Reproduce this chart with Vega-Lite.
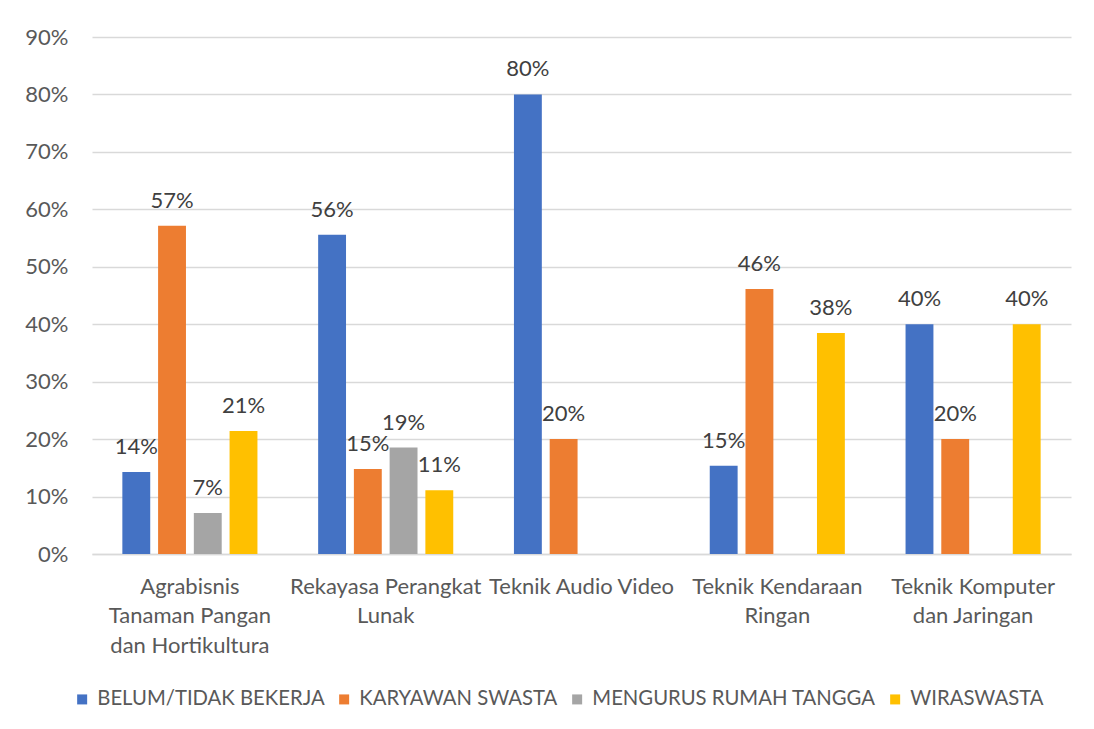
{
  "$schema": "https://vega.github.io/schema/vega-lite/v6.json",
  "autosize": {"type": "none"},
  "width": 979,
  "height": 517,
  "padding": {"left": 92, "top": 37, "right": 23, "bottom": 175},
  "background": "white",
  "config": {"view": {"stroke": null}, "font": "Lato"},
  "data": {
    "values": [
      {"jurusan": "Agrabisnis Tanaman Pangan dan Hortikultura", "status": "BELUM/TIDAK BEKERJA", "persen": 0.1429},
      {"jurusan": "Agrabisnis Tanaman Pangan dan Hortikultura", "status": "KARYAWAN SWASTA", "persen": 0.5714},
      {"jurusan": "Agrabisnis Tanaman Pangan dan Hortikultura", "status": "MENGURUS RUMAH TANGGA", "persen": 0.0714},
      {"jurusan": "Agrabisnis Tanaman Pangan dan Hortikultura", "status": "WIRASWASTA", "persen": 0.2143},
      {"jurusan": "Rekayasa Perangkat Lunak", "status": "BELUM/TIDAK BEKERJA", "persen": 0.5556},
      {"jurusan": "Rekayasa Perangkat Lunak", "status": "KARYAWAN SWASTA", "persen": 0.1481},
      {"jurusan": "Rekayasa Perangkat Lunak", "status": "MENGURUS RUMAH TANGGA", "persen": 0.1852},
      {"jurusan": "Rekayasa Perangkat Lunak", "status": "WIRASWASTA", "persen": 0.1111},
      {"jurusan": "Teknik Audio Video", "status": "BELUM/TIDAK BEKERJA", "persen": 0.8},
      {"jurusan": "Teknik Audio Video", "status": "KARYAWAN SWASTA", "persen": 0.2},
      {"jurusan": "Teknik Kendaraan Ringan", "status": "BELUM/TIDAK BEKERJA", "persen": 0.1538},
      {"jurusan": "Teknik Kendaraan Ringan", "status": "KARYAWAN SWASTA", "persen": 0.4615},
      {"jurusan": "Teknik Kendaraan Ringan", "status": "WIRASWASTA", "persen": 0.3846},
      {"jurusan": "Teknik Komputer dan Jaringan", "status": "BELUM/TIDAK BEKERJA", "persen": 0.4},
      {"jurusan": "Teknik Komputer dan Jaringan", "status": "KARYAWAN SWASTA", "persen": 0.2},
      {"jurusan": "Teknik Komputer dan Jaringan", "status": "WIRASWASTA", "persen": 0.4}
    ]
  },
  "encoding": {
    "x": {
      "field": "jurusan",
      "type": "nominal",
      "sort": ["Agrabisnis Tanaman Pangan dan Hortikultura", "Rekayasa Perangkat Lunak", "Teknik Audio Video", "Teknik Kendaraan Ringan", "Teknik Komputer dan Jaringan"],
      "scale": {"paddingInner": 0.31, "paddingOuter": 0.155},
      "axis": {
        "title": null,
        "labelAngle": 0,
        "domain": true,
        "domainColor": "#D9D9D9",
        "domainWidth": 1.3,
        "ticks": false,
        "labelPadding": 22,
        "labelFontSize": 22,
        "labelColor": "#595959",
        "labelLineHeight": 29.5,
        "labelLimit": 400,
        "labelExpr": "datum.label == 'Agrabisnis Tanaman Pangan dan Hortikultura' ? ['Agrabisnis','Tanaman Pangan','dan Hortikultura'] : datum.label == 'Rekayasa Perangkat Lunak' ? ['Rekayasa Perangkat','Lunak'] : datum.label == 'Teknik Kendaraan Ringan' ? ['Teknik Kendaraan','Ringan'] : datum.label == 'Teknik Komputer dan Jaringan' ? ['Teknik Komputer','dan Jaringan'] : datum.label"
      }
    },
    "xOffset": {
      "field": "status",
      "type": "nominal",
      "sort": ["BELUM/TIDAK BEKERJA", "KARYAWAN SWASTA", "MENGURUS RUMAH TANGGA", "WIRASWASTA"],
      "scale": {"paddingInner": 0.22, "paddingOuter": 0}
    },
    "y": {
      "field": "persen",
      "type": "quantitative",
      "scale": {"domain": [0, 0.9], "nice": false},
      "axis": {
        "title": null,
        "values": [0, 0.1, 0.2, 0.3, 0.4, 0.5, 0.6, 0.7, 0.8, 0.9],
        "format": ".0%",
        "grid": true,
        "gridColor": "#D9D9D9",
        "gridWidth": 1.3,
        "domain": false,
        "ticks": false,
        "labelPadding": 24,
        "labelFontSize": 22,
        "labelColor": "#595959"
      }
    }
  },
  "layer": [
    {
      "mark": {"type": "bar"},
      "encoding": {
        "color": {
          "field": "status",
          "type": "nominal",
          "sort": ["BELUM/TIDAK BEKERJA", "KARYAWAN SWASTA", "MENGURUS RUMAH TANGGA", "WIRASWASTA"],
          "scale": {
            "domain": ["BELUM/TIDAK BEKERJA", "KARYAWAN SWASTA", "MENGURUS RUMAH TANGGA", "WIRASWASTA"],
            "range": ["#4472C4", "#ED7D31", "#A5A5A5", "#FFC000"]
          },
          "legend": {
            "title": null,
            "orient": "none",
            "legendX": -20,
            "legendY": 652,
            "direction": "horizontal",
            "symbolType": "square",
            "symbolSize": 100,
            "symbolStrokeWidth": 0,
            "labelFontSize": 20.3,
            "labelColor": "#595959",
            "labelOffset": 5,
            "columnPadding": 9,
            "labelLimit": 400
          }
        }
      }
    },
    {
      "mark": {"type": "text", "baseline": "bottom", "dy": -13, "fontSize": 22, "color": "#404040"},
      "encoding": {
        "text": {"field": "persen", "type": "quantitative", "format": ".0%"}
      }
    }
  ]
}
